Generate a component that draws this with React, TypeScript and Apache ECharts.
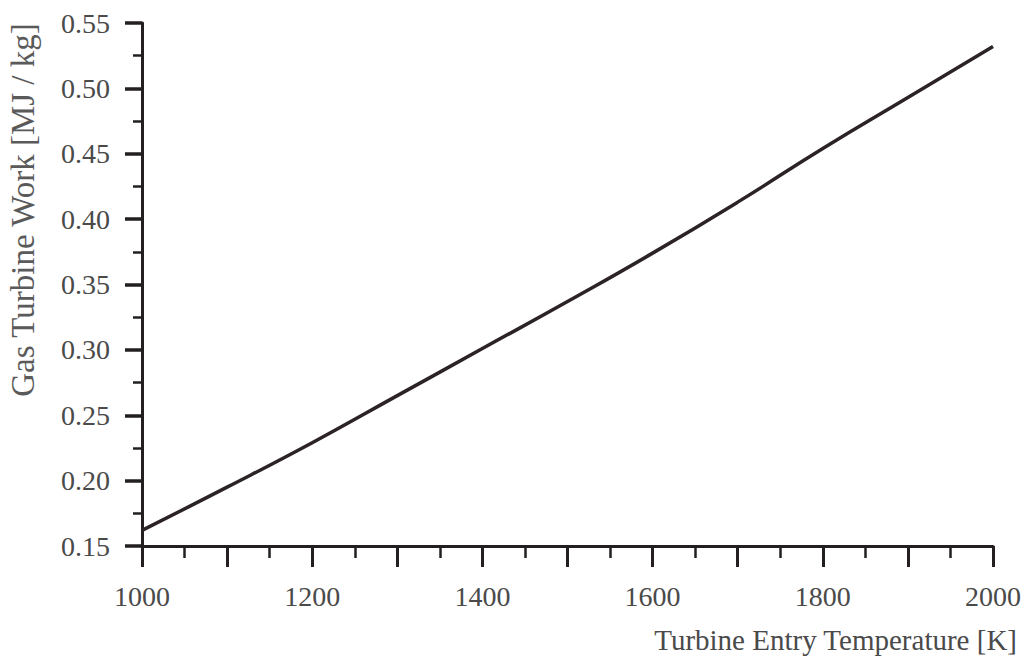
import React, { useEffect, useRef } from "react";
import * as echarts from "echarts";

const temperatures = [1000, 1100, 1200, 1300, 1400, 1500, 1600, 1700, 1800, 1900, 2000];
const work = [0.162, 0.195, 0.229, 0.265, 0.301, 0.337, 0.374, 0.413, 0.454, 0.493, 0.532];
const yTitle = "Gas Turbine Work [MJ / kg]";
const xTitle = "Turbine Entry Temperature [K]";

const FONT = "'Liberation Serif', 'DejaVu Serif', serif";

export default function App() {
  const ref = useRef<HTMLDivElement>(null);
  useEffect(() => {
    if (!ref.current) return;
    const chart = echarts.init(ref.current, null, { renderer: "svg" });
    const axisColor = "#231f20";
    chart.setOption({
      animation: false,
      backgroundColor: "#ffffff",
      grid: { left: 142, right: 34, top: 23, bottom: 112, containLabel: false },
      xAxis: {
        type: "value",
        min: 1000,
        max: 2000,
        interval: 100,
        axisLine: { show: true, onZero: false, lineStyle: { color: axisColor, width: 3 } },
        axisTick: { show: true, inside: false, length: 21, lineStyle: { color: axisColor, width: 3 } },
        minorTick: { show: true, splitNumber: 2, length: 12, lineStyle: { color: axisColor, width: 2.5 } },
        splitLine: { show: false },
        axisLabel: {
          margin: 36,
          color: "#4a4a4a",
          fontFamily: FONT,
          fontSize: 28,
          formatter: (v: number) => (Math.round(v) % 200 === 0 ? String(Math.round(v)) : ""),
        },
      },
      yAxis: {
        type: "value",
        min: 0.15,
        max: 0.55,
        interval: 0.05,
        axisLine: { show: true, onZero: false, lineStyle: { color: axisColor, width: 3 } },
        axisTick: { show: true, inside: false, length: 17, lineStyle: { color: axisColor, width: 3.5 } },
        minorTick: { show: true, splitNumber: 2, length: 9, lineStyle: { color: axisColor, width: 2.5 } },
        splitLine: { show: false },
        axisLabel: {
          margin: 32,
          color: "#4a4a4a",
          fontFamily: FONT,
          fontSize: 28,
          formatter: (v: number) => v.toFixed(2),
        },
      },
      graphic: [
        {
          type: "text",
          x: 23,
          y: 210,
          rotation: Math.PI / 2,
          style: {
            text: yTitle,
            fill: "#5a5a5a",
            font: `33px ${FONT}`,
            align: "center",
            verticalAlign: "middle",
          },
        },
        {
          type: "text",
          x: 1017,
          y: 640,
          style: {
            text: xTitle,
            fill: "#4a4a4a",
            font: `29px ${FONT}`,
            align: "right",
            verticalAlign: "middle",
          },
        },
      ],
      series: [
        {
          type: "line",
          data: temperatures.map((t, i) => [t, work[i]]),
          smooth: true,
          showSymbol: false,
          symbol: "none",
          lineStyle: { color: "#2b2327", width: 3.5 },
        },
      ],
    });
    return () => chart.dispose();
  }, []);
  return <div ref={ref} style={{ width: 1027, height: 658, position: "absolute", left: 0, top: 0 }} />;
}
